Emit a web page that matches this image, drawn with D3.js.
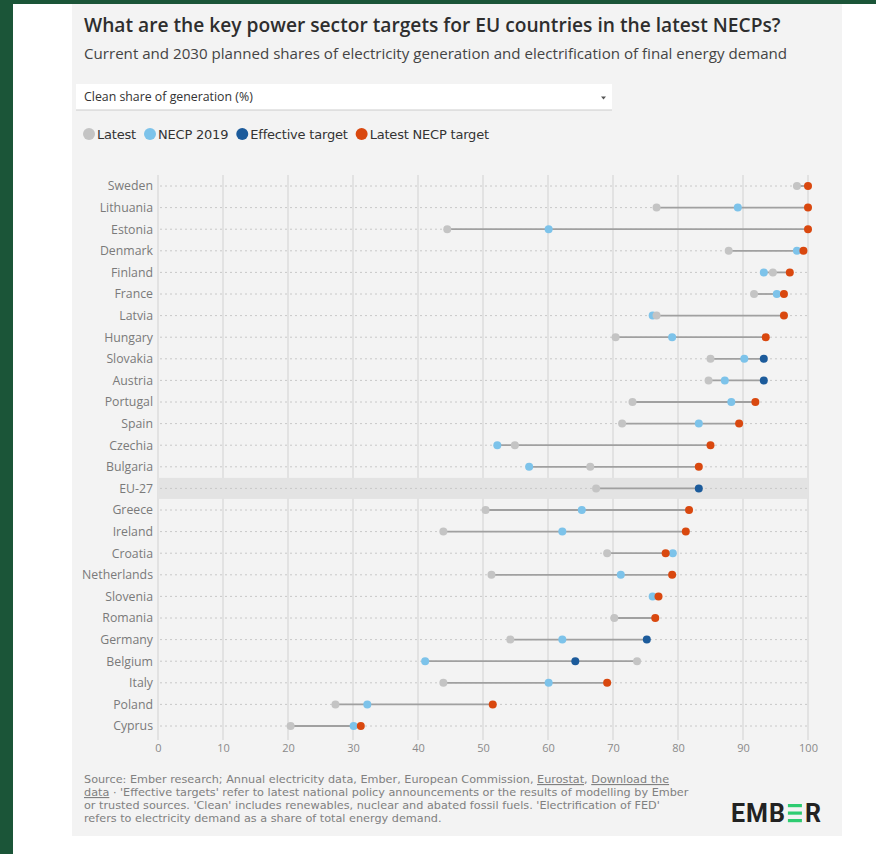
<!DOCTYPE html>
<html>
  <head>
    <meta charset="utf-8">
    <title>EU power sector targets</title>
    <script src="https://d3js.org/d3.v7.min.js"></script>
    <style>
      body { margin: 0; background: #fff; }
      svg { display: block; font-family: "Open Sans", "Noto Sans", sans-serif; }
      .row-label { fill: #7a7a7a; }
      .tick text { fill: #8a8a8a; font-size: 11px; font-family: "Open Sans", sans-serif; }
      .footer { fill: #808080; font-family: "DejaVu Sans", sans-serif; }
    </style>
  </head>
  <body>
    <svg id="chart" width="876" height="854"></svg>
    <script>
      // data
      var countries = ["Sweden", "Lithuania", "Estonia", "Denmark", "Finland", "France", "Latvia", "Hungary",
        "Slovakia", "Austria", "Portugal", "Spain", "Czechia", "Bulgaria", "EU-27", "Greece", "Ireland",
        "Croatia", "Netherlands", "Slovenia", "Romania", "Germany", "Belgium", "Italy", "Poland", "Cyprus"];
      var latest = [98.3, 76.7, 44.5, 87.8, 94.6, 91.7, 76.7, 70.4, 85, 84.7, 73, 71.4, 54.9, 66.5, 67.4, 50.4,
        43.9, 69.1, 51.3, null, 70.2, 54.2, 73.7, 43.9, 27.3, 20.4];
      var necp2019 = [null, 89.2, 60.1, 98.3, 93.2, 95.2, 76.1, 79.1, 90.2, 87.2, 88.2, 83.2, 52.2, 57.1, null, 65.2,
        62.2, 79.2, 71.2, 76.1, null, 62.2, 41.1, 60.1, 32.2, 30.1];
      var effective = [null, null, null, null, null, null, null, null, 93.2, 93.2, null, null, null, null, 83.2, null,
        null, null, null, null, null, 75.2, 64.2, null, null, null];
      var latestNecp = [100, 100, 100, 99.3, 97.2, 96.3, 96.3, 93.5, null, null, 91.9, 89.4, 85, 83.2, null, 81.7,
        81.2, 78.1, 79.1, 77, 76.5, null, null, 69.1, 51.5, 31.2];
      var xTicks = [0, 10, 20, 30, 40, 50, 60, 70, 80, 90, 100];
      var highlight = "EU-27";

      var series = [
        { name: "Latest", values: latest, color: "#c4c4c4" },
        { name: "NECP 2019", values: necp2019, color: "#7dc3ea" },
        { name: "Effective target", values: effective, color: "#1c5b9b" },
        { name: "Latest NECP target", values: latestNecp, color: "#d9480f" }
      ];
      var drawOrder = [1, 0, 2, 3];

      var svg = d3.select("#chart");

      // scale a text's font size so it spans the wanted width
      function fitFont(sel, size, width) {
        sel.style("font-size", size + "px");
        var w = sel.node().getComputedTextLength();
        var s = size * width / w;
        sel.style("font-size", s + "px");
        return s;
      }

      // page frame
      svg.append("rect").attr("width", 876).attr("height", 854).attr("fill", "#1b5538");
      svg.append("rect").attr("x", 13).attr("y", 4).attr("width", 863).attr("height", 850).attr("fill", "#fff");
      svg.append("rect").attr("x", 72).attr("y", 4).attr("width", 770).attr("height", 832).attr("fill", "#f3f3f3");

      // headings
      var title = svg.append("text").attr("x", 84).attr("y", 32)
        .style("font-weight", 600).attr("fill", "#2e2e2e")
        .text("What are the key power sector targets for EU countries in the latest NECPs?");
      fitFont(title, 17, 697);
      var subtitle = svg.append("text").attr("x", 84).attr("y", 59).attr("fill", "#444")
        .text("Current and 2030 planned shares of electricity generation and electrification of final energy demand");
      fitFont(subtitle, 13, 704);

      // dropdown
      svg.append("rect").attr("x", 76).attr("y", 84).attr("width", 536).attr("height", 26).attr("fill", "#fff");
      svg.append("line").attr("x1", 76).attr("x2", 612).attr("y1", 110).attr("y2", 110)
        .attr("stroke", "#ccc");
      var dd = svg.append("text").attr("x", 84).attr("y", 101).attr("fill", "#333")
        .text("Clean share of generation (%)");
      fitFont(dd, 10.5, 169);
      svg.append("path").attr("d", "M601,96.5 l5,0 l-2.5,3 z").attr("fill", "#555");

      // legend
      var legend = svg.append("g").attr("transform", "translate(89,134)");
      var legendSize = 13;
      var lx = 0;
      series.forEach(function(s) {
        legend.append("circle").attr("cx", lx).attr("cy", 0).attr("r", 6).attr("fill", s.color);
        var t = legend.append("text").attr("x", lx + 8).attr("y", 4.5)
          .style("font-size", legendSize + "px").style("font-weight", 500).attr("fill", "#333")
          .style("font-family", "'DejaVu Sans', sans-serif").style("letter-spacing", "-0.2px")
          .text(s.name);
        lx += 8 + t.node().getComputedTextLength() + 14;
      });

      // scales
      var x = d3.scaleLinear().domain([0, 100]).range([158, 808]);
      var y = d3.scalePoint().domain(countries).range([186, 726]);

      // vertical grid
      svg.append("g").selectAll("line").data(xTicks).join("line")
        .attr("x1", function(d) { return x(d); }).attr("x2", function(d) { return x(d); })
        .attr("y1", 175).attr("y2", 740)
        .attr("stroke", "#dcdcdc").attr("stroke-width", 1.5);

      // highlight band
      svg.append("rect").attr("x", x(0)).attr("width", x(100) - x(0))
        .attr("y", y(highlight) - 10.5).attr("height", 21).attr("fill", "#e3e3e3");

      // axis
      var xAxis = d3.axisBottom(x).tickValues(xTicks).tickSize(0).tickPadding(0);
      svg.append("g").attr("transform", "translate(0,744)").call(xAxis)
        .call(function(g) { g.select(".domain").remove(); })
        .selectAll("text").attr("dy", "0.71em");

      // rows
      var rows = svg.append("g").selectAll("g").data(countries).join("g")
        .attr("transform", function(d) { return "translate(0," + y(d) + ")"; });
      rows.append("line").attr("x1", x(0) + 2).attr("x2", x(100))
        .attr("stroke", "#c8c8c8").attr("stroke-dasharray", "2,3");
      var labels = rows.append("text").attr("class", "row-label").attr("x", 153).attr("dy", "0.35em")
        .attr("text-anchor", "end").text(function(d) { return d; });
      var labelSize = fitFont(labels.filter(function(d) { return d === "Netherlands"; }), 11, 71);
      labels.style("font-size", labelSize + "px");

      // range line
      rows.append("line")
        .each(function(d, i) {
          var vals = series.map(function(s) { return s.values[i]; }).filter(function(v) { return v != null; });
          d3.select(this).attr("x1", x(d3.min(vals))).attr("x2", x(d3.max(vals)));
        })
        .attr("stroke", "#a0a0a0").attr("stroke-width", 1.8);

      // dots
      drawOrder.forEach(function(k) {
        var s = series[k];
        rows.filter(function(d, i) { return s.values[i] != null; })
          .append("circle")
          .attr("cx", function(d) { return x(s.values[countries.indexOf(d)]); })
          .attr("r", 4).attr("fill", s.color);
      });

      // footer
      var foot = svg.append("text").attr("class", "footer").attr("x", 84).attr("y", 783);
      foot.append("tspan").text("Source: Ember research; Annual electricity data, Ember, European Commission, ");
      foot.append("tspan").style("text-decoration", "underline").text("Eurostat");
      foot.append("tspan").text(", ");
      foot.append("tspan").style("text-decoration", "underline").text("Download the");
      var foot2 = svg.append("text").attr("class", "footer").attr("x", 84).attr("y", 796);
      foot2.append("tspan").style("text-decoration", "underline").text("data");
      foot2.append("tspan").text(" · 'Effective targets' refer to latest national policy announcements or the results of modelling by Ember");
      var foot3 = svg.append("text").attr("class", "footer").attr("x", 84).attr("y", 809)
        .text("or trusted sources. 'Clean' includes renewables, nuclear and abated fossil fuels. 'Electrification of FED'");
      var foot4 = svg.append("text").attr("class", "footer").attr("x", 84).attr("y", 822)
        .text("refers to electricity demand as a share of total energy demand.");
      var footSize = fitFont(foot2, 10, 605);
      [foot, foot3, foot4].forEach(function(f) { f.style("font-size", footSize + "px"); });

      // logo
      var logo = svg.append("g").attr("transform", "translate(731,822)");
      var emb = logo.append("text").attr("x", 0).attr("y", 0).style("font-size", "25px").style("font-weight", 700)
        .style("font-family", "Roboto, sans-serif").style("letter-spacing", "1px").attr("fill", "#222").text("EMB");
      var bx = emb.node().getComputedTextLength() + 2;
      [0, 7.5, 15].forEach(function(dy) {
        logo.append("rect").attr("x", bx).attr("y", -18 + dy).attr("width", 14).attr("height", 3.2)
          .attr("fill", "#2ecc71");
      });
      logo.append("text").attr("x", bx + 17).attr("y", 0).style("font-size", "25px").style("font-weight", 700)
        .style("font-family", "Roboto, sans-serif").attr("fill", "#222").text("R");
    </script>
  </body>
</html>
